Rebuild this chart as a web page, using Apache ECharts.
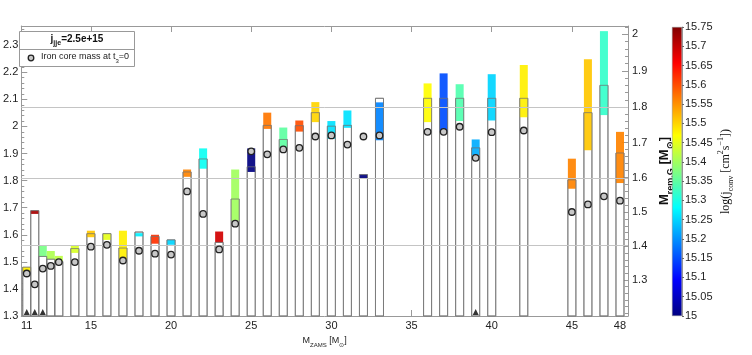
<!DOCTYPE html>
<html>
<head>
<meta charset="utf-8">
<script src="https://cdn.jsdelivr.net/npm/echarts@6/dist/echarts.min.js"></script>
<style>
  html, body { margin: 0; padding: 0; background: #fff; }
  #chart { width: 752px; height: 355px; }
</style>
</head>
<body>
<div id="chart"></div>
<script>
// progenitor ZAMS masses
const mZams = [11, 11.5, 12, 12.5, 13, 14, 15, 16, 17, 18, 19, 20, 21, 22, 23, 24, 25,
  26, 27, 28, 29, 30, 31, 32, 33, 36, 37, 38, 39, 40, 42, 45, 46, 47, 48];
// baryonic remnant mass (top of the open bar)
const remTop = [1.480, 1.689, 1.520, 1.510, 1.501, 1.549, 1.604, 1.604, 1.551, 1.610, 1.594, 1.581,
  1.832, 1.880, 1.572, 1.732, 1.851, 2.004, 1.952, 2.003, 2.051, 2.001, 2.004, 1.822, 2.104,
  2.104, 2.104, 2.104, 1.921, 2.104, 2.104, 1.803, 2.051, 2.152, 1.902];
// range of the coloured box
const rangeLow = [1.464, 1.677, 1.520, 1.510, 1.501, 1.533, 1.591, 1.581, 1.510, 1.594, 1.567, 1.563,
  1.814, 1.844, 1.572, 1.652, 1.832, 1.991, 1.920, 1.981, 2.016, 1.954, 1.995, 1.806, 1.949,
  2.016, 1.983, 2.020, 1.894, 2.022, 2.034, 1.770, 1.912, 2.042, 1.791];
const rangeHigh = [1.481, 1.689, 1.559, 1.540, 1.522, 1.559, 1.615, 1.604, 1.615, 1.606, 1.600, 1.581,
  1.841, 1.919, 1.612, 1.841, 1.919, 2.051, 1.996, 2.022, 2.090, 2.020, 2.059, 1.822, 2.089,
  2.159, 2.196, 2.156, 1.952, 2.193, 2.227, 1.881, 2.248, 2.352, 1.980];
// log(j_conv) -> colour
const logJconv = [15.48, 15.72, 15.37, 15.41, 15.42, 15.44, 15.51, 15.45, 15.48, 15.27, 15.62, 15.25,
  15.56, 15.29, 15.69, 15.40, 15.00, 15.57, 15.35, 15.60, 15.50, 15.26, 15.26, 15.00, 15.19,
  15.47, 15.15, 15.34, 15.22, 15.25, 15.48, 15.56, 15.51, 15.32, 15.56];
// iron core mass at t3=0
const ironCore = [1.457, 1.417, 1.475, 1.485, 1.499, 1.499, 1.556, 1.563, 1.505, 1.541, 1.530, 1.527,
  1.760, 1.677, 1.546, 1.641, 1.908, 1.897, 1.915, 1.921, 1.963, 1.967, 1.933, 1.963, 1.967,
  1.980, 1.980, 1.999, 1.884, 1.979, 1.985, 1.684, 1.712, 1.742, 1.726];
// models marked with a triangle
const failedRuns = [11, 11.5, 12, 39];
// horizontal reference lines (gravitational masses)
const refGravMasses = [1.4, 1.6, 1.8];

const xTickLabels = [11, 15, 20, 25, 30, 35, 40, 45, 48];
const leftTickLabels = [1.3, 1.4, 1.5, 1.6, 1.7, 1.8, 1.9, 2.0, 2.1, 2.2, 2.3];
const rightTickLabels = [1.3, 1.4, 1.5, 1.6, 1.7, 1.8, 1.9, 2.0];
const jetColors = ['#000080', '#0000ff', '#0080ff', '#00ffff', '#80ff80',
  '#ffff00', '#ff8000', '#ff0000', '#800000'];

const FONT = 'Liberation Sans';
const HALF = 0.25;
const YMIN = 1.3, YMAX = 2.371;
const C2 = 0.0895, C0 = -0.018;
const toBaryonic = g => g + C2 * g * g + C0;
const toGrav = b => (-1 + Math.sqrt(1 - 4 * C2 * (C0 - b))) / (2 * C2);

const leftMinor = [];
for (let v = 1.30; v < YMAX; v += 0.02) leftMinor.push(+v.toFixed(2));
const rightMinor = [];
for (let g = 1.20; g <= 2.021; g += 0.02) rightMinor.push(toBaryonic(+g.toFixed(2)));

const openBars = mZams.map((m, i) => [m, YMIN, remTop[i]]);
const colourBoxes = mZams.map((m, i) => [m, rangeLow[i], rangeHigh[i], logJconv[i]]);
const coreDots = mZams.map((m, i) => [m, ironCore[i]]);
const triangles = failedRuns.map(m => [m, YMIN]);

function boxRenderer(mode) {
  return function (params, api) {
    const a = api.coord([api.value(0) - HALF, api.value(1)]);
    const b = api.coord([api.value(0) + HALF, api.value(2)]);
    const shape = { x: a[0], y: b[1], width: b[0] - a[0], height: a[1] - b[1] };
    let style;
    if (mode === 'fill') style = { fill: '#fff', stroke: '#8a8a8a', lineWidth: 1 };
    else if (mode === 'colour') style = { fill: api.visual('color'), opacity: 0.92 };
    else style = { fill: 'none', stroke: '#777', lineWidth: 1, opacity: 0.75 };
    return { type: 'rect', shape: shape, style: style };
  };
}

const subRich = {
  n: { fontFamily: FONT, fontSize: 9, color: '#222', verticalAlign: 'top', lineHeight: 11 },
  s: { fontFamily: FONT, fontSize: 6, color: '#222', verticalAlign: 'top', lineHeight: 7, padding: [6, 0, 0, 0] }
};

const chart = echarts.init(document.getElementById('chart'));
chart.setOption({
  animation: false,
  backgroundColor: '#fff',
  textStyle: { fontFamily: FONT },
  grid: [
    { left: 15, right: 124, top: 26, bottom: 39 },
    { left: 672, width: 10, top: 27, bottom: 39 }
  ],
  visualMap: {
    type: 'continuous', show: false, min: 15, max: 15.75, dimension: 3, seriesIndex: 1,
    inRange: { color: jetColors }
  },
  xAxis: [
    {
      type: 'value', gridIndex: 0, position: 'bottom', min: 10.66, max: 48.5,
      axisLine: { lineStyle: { color: '#999' } },
      axisTick: { inside: true, length: 6, customValues: xTickLabels, lineStyle: { color: '#999' } },
      axisLabel: { customValues: xTickLabels, fontSize: 11, color: '#222', margin: 4 },
      splitLine: { show: false },
      name: '{n|M}{s|ZAMS}{n| [M}{s|\u2299}{n|]}',
      nameLocation: 'middle', nameGap: 18,
      nameTextStyle: { rich: subRich }
    },
    {
      type: 'value', gridIndex: 0, position: 'top', min: 10.66, max: 48.5,
      axisLine: { lineStyle: { color: '#999' } },
      axisTick: { inside: true, length: 6, customValues: xTickLabels.slice(1, -1), lineStyle: { color: '#999' } },
      axisLabel: { show: false },
      splitLine: { show: false }
    },
    { type: 'category', gridIndex: 1, data: ['cb'], show: false }
  ],
  yAxis: [
    {
      type: 'value', gridIndex: 0, position: 'left', min: YMIN, max: YMAX,
      axisLine: { show: true, lineStyle: { color: '#999' } },
      axisTick: { inside: true, length: 6, customValues: leftTickLabels, lineStyle: { color: '#999' } },
      axisLabel: { customValues: leftTickLabels, fontSize: 11, color: '#222', margin: 3 },
      splitLine: { show: false }
    },
    {
      type: 'value', gridIndex: 0, position: 'right', min: YMIN, max: YMAX,
      axisLine: { show: true, lineStyle: { color: '#999' } },
      axisTick: { inside: true, length: 6, customValues: rightTickLabels.map(toBaryonic), lineStyle: { color: '#999' } },
      axisLabel: {
        customValues: rightTickLabels.map(toBaryonic), fontSize: 11, color: '#222', margin: 4,
        formatter: v => String(Math.round(toGrav(v) * 10) / 10)
      },
      splitLine: { show: false },
      name: '{b|M}{bs|rem,G}{b| [M}{bs|\u2299}{b|]}',
      nameLocation: 'middle', nameRotate: 90, nameGap: 18,
      nameTextStyle: {
        rich: {
          b: { fontFamily: FONT, fontSize: 13, fontWeight: 'bold', color: '#111', verticalAlign: 'top', lineHeight: 15 },
          bs: { fontFamily: FONT, fontSize: 9, fontWeight: 'bold', color: '#111', verticalAlign: 'top', lineHeight: 10, padding: [8, 0, 0, 0] }
        }
      }
    },
    {
      type: 'value', gridIndex: 0, position: 'left', min: YMIN, max: YMAX,
      axisLine: { show: false },
      axisTick: { inside: true, length: 3, customValues: leftMinor, lineStyle: { color: '#999' } },
      axisLabel: { show: false },
      splitLine: { show: false }
    },
    {
      type: 'value', gridIndex: 0, position: 'right', min: YMIN, max: YMAX,
      axisLine: { show: false },
      axisTick: { inside: true, length: 3, customValues: rightMinor, lineStyle: { color: '#999' } },
      axisLabel: { show: false },
      splitLine: { show: false }
    },
    {
      type: 'value', gridIndex: 1, position: 'right', min: 15, max: 15.75, interval: 0.05,
      axisLine: { show: true, lineStyle: { color: '#999' } },
      axisTick: { show: true, length: 2, lineStyle: { color: '#666' } },
      axisLabel: { fontSize: 11, color: '#222', margin: 3 },
      splitLine: { show: false },
      name: '{t|log(j}{ts|conv}{t| [cm}{tp|2}{t|s}{tp|\u22121}{t|])}',
      nameLocation: 'middle', nameRotate: 90, nameGap: 34,
      nameTextStyle: {
        rich: {
          t: { fontFamily: 'Liberation Serif', fontSize: 12, color: '#111', verticalAlign: 'top', lineHeight: 14, padding: [3, 0, 0, 0] },
          ts: { fontFamily: 'Liberation Serif', fontSize: 8, color: '#111', verticalAlign: 'top', lineHeight: 9, padding: [10, 0, 0, 0] },
          tp: { fontFamily: 'Liberation Serif', fontSize: 8, color: '#111', verticalAlign: 'top', lineHeight: 9 }
        }
      }
    }
  ],
  series: [
    {
      type: 'custom', name: 'open', xAxisIndex: 0, yAxisIndex: 0, z: 1,
      renderItem: boxRenderer('fill'), data: openBars, encode: { x: 0, y: [1, 2] }
    },
    {
      type: 'custom', name: 'range', xAxisIndex: 0, yAxisIndex: 0, z: 2,
      renderItem: boxRenderer('colour'), data: colourBoxes, encode: { x: 0, y: [1, 2] }
    },
    {
      type: 'custom', name: 'outline', xAxisIndex: 0, yAxisIndex: 0, z: 3,
      renderItem: boxRenderer('line'), data: openBars, encode: { x: 0, y: [1, 2] }
    },
    {
      type: 'scatter', name: 'Iron core mass', xAxisIndex: 0, yAxisIndex: 0, z: 5,
      symbol: 'circle', symbolSize: 6.5, data: coreDots,
      itemStyle: { color: '#c8c8c8', borderColor: '#222', borderWidth: 1.3, opacity: 1 },
      markLine: {
        silent: true, symbol: 'none', label: { show: false },
        lineStyle: { color: '#c4c4c4', width: 1, type: 'solid' },
        data: refGravMasses.map(g => ({ yAxis: toBaryonic(g) }))
      }
    },
    {
      type: 'scatter', xAxisIndex: 0, yAxisIndex: 0, z: 5, clip: false,
      symbol: 'triangle', symbolSize: [6, 6], symbolOffset: [0, -4], data: triangles,
      itemStyle: { color: '#000' }
    },
    {
      type: 'bar', xAxisIndex: 2, yAxisIndex: 4, stack: 'cb', barWidth: '100%', silent: true,
      data: [15], itemStyle: { color: 'rgba(0,0,0,0)' }
    },
    {
      type: 'bar', xAxisIndex: 2, yAxisIndex: 4, stack: 'cb', barWidth: '100%', silent: true,
      data: [0.75],
      itemStyle: {
        borderColor: '#888', borderWidth: 0.5,
        color: {
          type: 'linear', x: 0, y: 1, x2: 0, y2: 0,
          colorStops: jetColors.map((c, i) => ({ offset: i / (jetColors.length - 1), color: c }))
        }
      }
    }
  ],
  graphic: [
    { type: 'rect', z: 10, shape: { x: 19.5, y: 31.5, width: 115, height: 35 },
      style: { fill: '#fff', stroke: '#999', lineWidth: 1 } },
    { type: 'line', z: 11, shape: { x1: 19.5, y1: 49.5, x2: 134.5, y2: 49.5 },
      style: { stroke: '#999', lineWidth: 1 } },
    { type: 'text', z: 11, x: 77, y: 34,
      style: {
        text: '{t|j}{ts|jje}{t|=2.5e+15}', align: 'center',
        rich: {
          t: { fontFamily: FONT, fontSize: 10, fontWeight: 'bold', fill: '#111', verticalAlign: 'top', lineHeight: 12 },
          ts: { fontFamily: FONT, fontSize: 7, fontWeight: 'bold', fill: '#111', verticalAlign: 'top', lineHeight: 8, padding: [6, 0, 0, 0] }
        }
      } },
    { type: 'circle', z: 11, shape: { cx: 31, cy: 58, r: 2.8 },
      style: { fill: '#c8c8c8', stroke: '#222', lineWidth: 1.3 } },
    { type: 'text', z: 11, x: 41, y: 52,
      style: {
        text: '{n|Iron core mass at t}{s|3}{n|=0}',
        rich: {
          n: { fontFamily: FONT, fontSize: 9, fill: '#222', verticalAlign: 'top', lineHeight: 11 },
          s: { fontFamily: FONT, fontSize: 6, fill: '#222', verticalAlign: 'top', lineHeight: 7, padding: [6, 0, 0, 0] }
        }
      } }
  ]
});
</script>
</body>
</html>
